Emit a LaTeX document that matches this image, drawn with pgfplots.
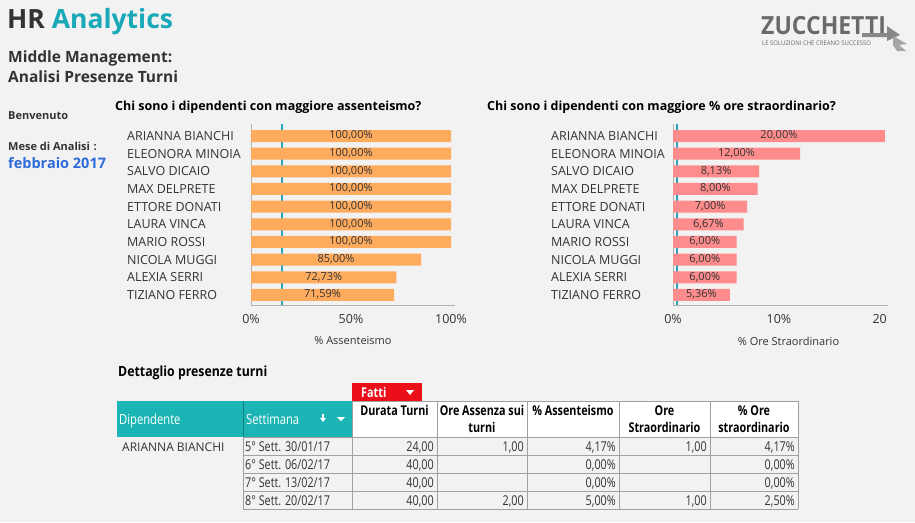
\documentclass[border=0pt]{standalone}
\usepackage{fontspec}
\setmainfont{Open Sans}
\usepackage{graphicx}
\usepackage{pgfplots}
\pgfplotsset{compat=1.18}
\usepackage{pgfplotstable}
\definecolor{bg}{HTML}{F2F2F2}
\definecolor{dark}{HTML}{333333}
\definecolor{titleteal}{HTML}{1AA9B9}
\definecolor{tealhdr}{HTML}{1CB5B5}
\definecolor{orangebar}{HTML}{FFAB5E}
\definecolor{pinkbar}{HTML}{FF8C8C}
\definecolor{refline}{HTML}{2AA3C0}
\definecolor{fattired}{HTML}{EB0F1A}
\definecolor{febblue}{HTML}{2E6BDB}
\definecolor{cellgray}{HTML}{A0A0A0}
\definecolor{axgray}{HTML}{B0B0B0}
\definecolor{logogray}{HTML}{6A6A6A}
\newcommand{\fs}[1]{\fontsize{#1}{#1}\selectfont}
\newcommand{\cn}[1]{\scalebox{0.8}[1]{#1}}

% rank 9 = top bar
\pgfplotstableread{
idx v
9 100
8 100
7 100
6 100
5 100
4 100
3 100
2 85
1 72.73
0 71.59
}\assenteismo
\pgfplotstableread{
idx v
9 20
8 12
7 8.13
6 8
5 7
4 6.67
3 6
2 6
1 6
0 5.36
}\straord

\pgfplotsset{
  hrbar/.style={
    scale only axis, height=181pt, ymin=-0.57, ymax=9.68,
    axis x line*=bottom, axis y line*=left,
    axis line style={draw=axgray, line width=0.8pt},
    major tick length=0pt,
    ytick={0,...,9},
    tick label style={text=dark, font=\fs{12.5}},
    xticklabel style={inner sep=0pt, yshift=-9pt},
    yticklabel style={anchor=west, inner sep=0pt},
    xlabel style={font=\fs{11}, text=dark, at={(axis description cs:0.5,0)}, anchor=center, yshift=-36pt},
    clip=false,
  },
  vlab/.style={draw=none, mark=none, forget plot,
    point meta=\thisrow{v},
    nodes near coords={\pgfmathprintnumber[fixed, fixed zerofill, precision=2, use comma, assume math mode=true]{\pgfplotspointmeta}\%},
    every node near coord/.style={anchor=center, inner sep=0pt, font=\fs{11}, text=dark, yshift=0.5pt}},
}

\begin{document}
\begin{tikzpicture}[x=1pt, y=-1pt]
\path[use as bounding box, fill=bg] (0,0) rectangle (915,522);

% Titles
\node[anchor=base west, inner sep=0pt, font=\fs{26.5}\bfseries] at (7,28) {\textcolor{dark}{HR} \textcolor{titleteal}{Analytics}};
\node[anchor=base west, inner sep=0pt, font=\fs{15.5}\bfseries, text=dark] at (8,62) {Middle Management:};
\node[anchor=base west, inner sep=0pt, font=\fs{15.5}\bfseries, text=dark] at (8,82) {Analisi Presenze Turni};
\node[anchor=base west, inner sep=0pt, font=\fs{11}\bfseries, text=dark] at (8,119) {Benvenuto};
\node[anchor=base west, inner sep=0pt, font=\fs{11}\bfseries, text=dark] at (8,150) {Mese di Analisi\,\,:};
\node[anchor=base west, inner sep=0pt, font=\fs{14.5}\bfseries, text=febblue] at (8,168) {febbraio 2017};

% Logo
\node[anchor=base west, inner sep=0pt, font=\fs{25}\bfseries, text=logogray] at (761,34) {\scalebox{0.92}[1]{ZUCCHETTI}};
\node[anchor=base west, inner sep=0pt, font=\fs{6.3}, text=logogray] at (762,45) {\scalebox{0.95}[1]{LE SOLUZIONI CHE CREANO SUCCESSO}};
\fill[logogray!80] (862,33) -- (887,33) -- (887,26) -- (900,35) -- (887,41) -- (887,37) -- (862,37) -- cycle;
\fill[logogray!60] (893,36) -- (907,44) -- (899,45) -- (906,51) -- (897,51) -- (893,45) -- cycle;

% Chart titles
\node[anchor=base west, inner sep=0pt, font=\fs{12.5}\bfseries, text=black] at (115,110) {Chi sono i dipendenti con maggiore assenteismo?};
\node[anchor=base west, inner sep=0pt, font=\fs{12.5}\bfseries, text=black] at (487,110) {Chi sono i dipendenti con maggiore \% ore straordinario?};

% Left chart
\begin{axis}[hrbar, at={(251pt,-305pt)}, anchor=south west, width=204pt,
  xmin=0, xmax=102, xtick={0,50,100}, xticklabels={0\%,50\%,100\%},
  yticklabels={TIZIANO FERRO, ALEXIA SERRI, NICOLA MUGGI, MARIO ROSSI, LAURA VINCA, ETTORE DONATI, MAX DELPRETE, SALVO DICAIO, ELEONORA MINOIA, ARIANNA BIANCHI},
  yticklabel style={xshift=-124pt},
  xlabel={\% Assenteismo}]
\addplot[refline, line width=1.8pt, forget plot] coordinates {(15.5,-0.57) (15.5,9.68)};
\addplot[xbar, bar width=12pt, bar shift=0pt, fill=orangebar, draw=none] table[x=v, y=idx] {\assenteismo};
\addplot[vlab] table[x expr=\thisrow{v}/2, y=idx] {\assenteismo};
\end{axis}

% Right chart
\begin{axis}[hrbar, at={(673pt,-305pt)}, anchor=south west, width=215pt,
  xmin=0, xmax=20.3, xtick={0,10,20}, xticklabels={0\%,10\%,20\phantom{\%}},
  yticklabels={TIZIANO FERRO, ALEXIA SERRI, NICOLA MUGGI, MARIO ROSSI, LAURA VINCA, ETTORE DONATI, MAX DELPRETE, SALVO DICAIO, ELEONORA MINOIA, ARIANNA BIANCHI},
  yticklabel style={xshift=-122pt},
  xlabel={\% Ore Straordinario}, xlabel style={xshift=8pt}]
\addplot[refline, line width=1.8pt, forget plot] coordinates {(0.4,-0.57) (0.4,9.68)};
\addplot[xbar, bar width=12pt, bar shift=0pt, fill=pinkbar, draw=none] table[x=v, y=idx] {\straord};
\addplot[vlab] table[x expr=\thisrow{v}/2, y=idx] {\straord};
\end{axis}

% Table
\node[anchor=base west, inner sep=0pt, font=\fs{14}\bfseries, text=black] at (118,376) {\scalebox{0.88}[1]{Dettaglio presenze turni}};
\fill[fattired] (352,383) rectangle (422,401);
\node[anchor=base west, inner sep=0pt, font=\fs{13.5}\bfseries, text=white] at (361,397) {\cn{Fatti}};
\fill[white] (406,390) -- (414,390) -- (410,395) -- cycle;

\fill[tealhdr] (117,401) rectangle (352,437);
\draw[tealhdr!70!black, line width=0.6pt] (243,401) -- (243,437);
\node[anchor=base west, inner sep=0pt, font=\fs{14}, text=white] at (119,424) {\cn{Dipendente}};
\node[anchor=base west, inner sep=0pt, font=\fs{14}, text=white] at (246,424) {\cn{Settimana}};
\draw[white, line width=1.4pt] (323,414) -- (323,419);
\fill[white] (320,418) -- (326,418) -- (323,422) -- cycle;
\fill[white] (337,417) -- (345,417) -- (341,421) -- cycle;

\fill[white] (352,401) rectangle (798,437);
\draw[cellgray, line width=0.6pt] (352,401) -- (798,401);
\draw[cellgray, line width=0.6pt] (243,437) -- (798,437);
\foreach \yy in {455,473,491,509} \draw[cellgray, line width=0.6pt] (243,\yy) -- (798,\yy);
\foreach \xx in {352,437,527,619,710,798} \draw[cellgray, line width=0.6pt] (\xx,401) -- (\xx,509);
\draw[cellgray, line width=0.6pt] (243,437) -- (243,509);

\tikzset{hdr/.style={anchor=base, inner sep=0pt, font=\fs{13.5}\bfseries, text=black}}
\node[hdr] at (394.5,415) {\cn{Durata Turni}};
\node[hdr] at (482,415) {\cn{Ore Assenza sui}};
\node[hdr] at (482,432) {\cn{turni}};
\node[hdr] at (573,415) {\cn{\% Assenteismo}};
\node[hdr] at (664.5,415) {\cn{Ore}};
\node[hdr] at (664.5,432) {\cn{Straordinario}};
\node[hdr] at (754,415) {\cn{\% Ore}};
\node[hdr] at (754,432) {\cn{straordinario}};

\tikzset{cl/.style={anchor=base west, inner sep=0pt, font=\fs{13.5}, text=dark},
         cr/.style={anchor=base east, inner sep=0pt, font=\fs{13.5}, text=dark}}
\node[anchor=base west, inner sep=0pt, font=\fs{12}, text=dark] at (122,451) {ARIANNA BIANCHI};
\node[cl] at (245,451) {\cn{5° Sett. 30/01/17}};
\node[cl] at (245,469) {\cn{6° Sett. 06/02/17}};
\node[cl] at (245,487) {\cn{7° Sett. 13/02/17}};
\node[cl] at (245,505) {\cn{8° Sett. 20/02/17}};
\node[cr] at (434,451) {\cn{24,00}};
\node[cr] at (434,469) {\cn{40,00}};
\node[cr] at (434,487) {\cn{40,00}};
\node[cr] at (434,505) {\cn{40,00}};
\node[cr] at (524,451) {\cn{1,00}};
\node[cr] at (524,505) {\cn{2,00}};
\node[cr] at (616,451) {\cn{4,17\%}};
\node[cr] at (616,469) {\cn{0,00\%}};
\node[cr] at (616,487) {\cn{0,00\%}};
\node[cr] at (616,505) {\cn{5,00\%}};
\node[cr] at (707,451) {\cn{1,00}};
\node[cr] at (707,505) {\cn{1,00}};
\node[cr] at (795,451) {\cn{4,17\%}};
\node[cr] at (795,469) {\cn{0,00\%}};
\node[cr] at (795,487) {\cn{0,00\%}};
\node[cr] at (795,505) {\cn{2,50\%}};
\end{tikzpicture}
\end{document}
